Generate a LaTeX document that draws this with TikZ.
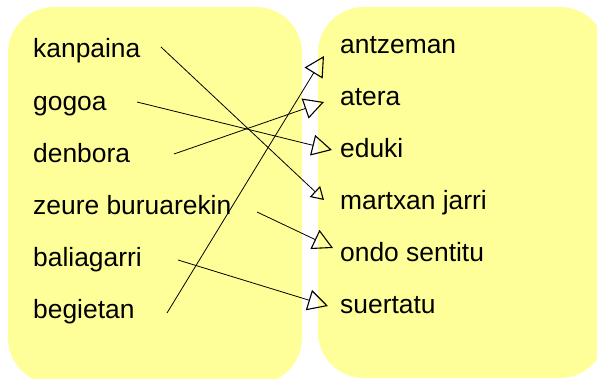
\documentclass[tikz,border=0pt]{standalone}
\usepackage{fontspec}
\setmainfont{Liberation Sans}
\usetikzlibrary{arrows.meta}
\definecolor{boxyellow}{RGB}{255,255,153}
\tikzset{
  panel/.style={fill=boxyellow, draw=none, rounded corners=46pt},
  word/.style={anchor=base west, inner sep=0pt, font=\fontsize{26.4}{30}\selectfont},
  link/.style={line width=0.8pt, -{Triangle[open, length=20pt, width=21pt, line width=1.1pt]}},
  smalllink/.style={line width=0.8pt, -{Triangle[open, length=12.5pt, width=15pt, line width=1.1pt]}}
}
\begin{document}
\begin{tikzpicture}[x=1pt,y=-1pt]
\useasboundingbox (0,0) rectangle (597,379);
\fill[panel] (8,7) rectangle (302,384);
\fill[panel] (318,7) rectangle (606,378);
% left words
\node[word] (kanpaina) at (33,58) {kanpaina};
\node[word] (gogoa) at (33,110.5) {gogoa};
\node[word] (denbora) at (33,163) {denbora};
\node[word] (zeure) at (33,215) {zeure buruarekin};
\node[word] (baliagarri) at (33,267) {baliagarri};
\node[word] (begietan) at (33,319) {begietan};
% right words
\node[word] (antzeman) at (340,54) {antzeman};
\node[word] (atera) at (340,106) {atera};
\node[word] (eduki) at (340,158) {eduki};
\node[word] (martxan) at (340,210) {martxan jarri};
\node[word] (ondo) at (340,262) {ondo sentitu};
\node[word] (suertatu) at (340,314) {suertatu};
% connector ends
\coordinate (s1) at (161,47);
\coordinate (s2) at (137,102);
\coordinate (s3) at (174,154);
\coordinate (s4) at (257,212);
\coordinate (s5) at (178,260);
\coordinate (s6) at (167,313);
\coordinate (t1) at (324,200);
\coordinate (t2) at (332,150);
\coordinate (t3) at (324,102);
\coordinate (t4) at (333,248);
\coordinate (t5) at (328,306);
\coordinate (t6) at (324,56);
\draw[smalllink] (s1) -- (t1);
\draw[link] (s2) -- (t2);
\draw[link] (s3) -- (t3);
\draw[link] (s4) -- (t4);
\draw[link] (s5) -- (t5);
\draw[link] (s6) -- (t6);
\end{tikzpicture}
\end{document}
